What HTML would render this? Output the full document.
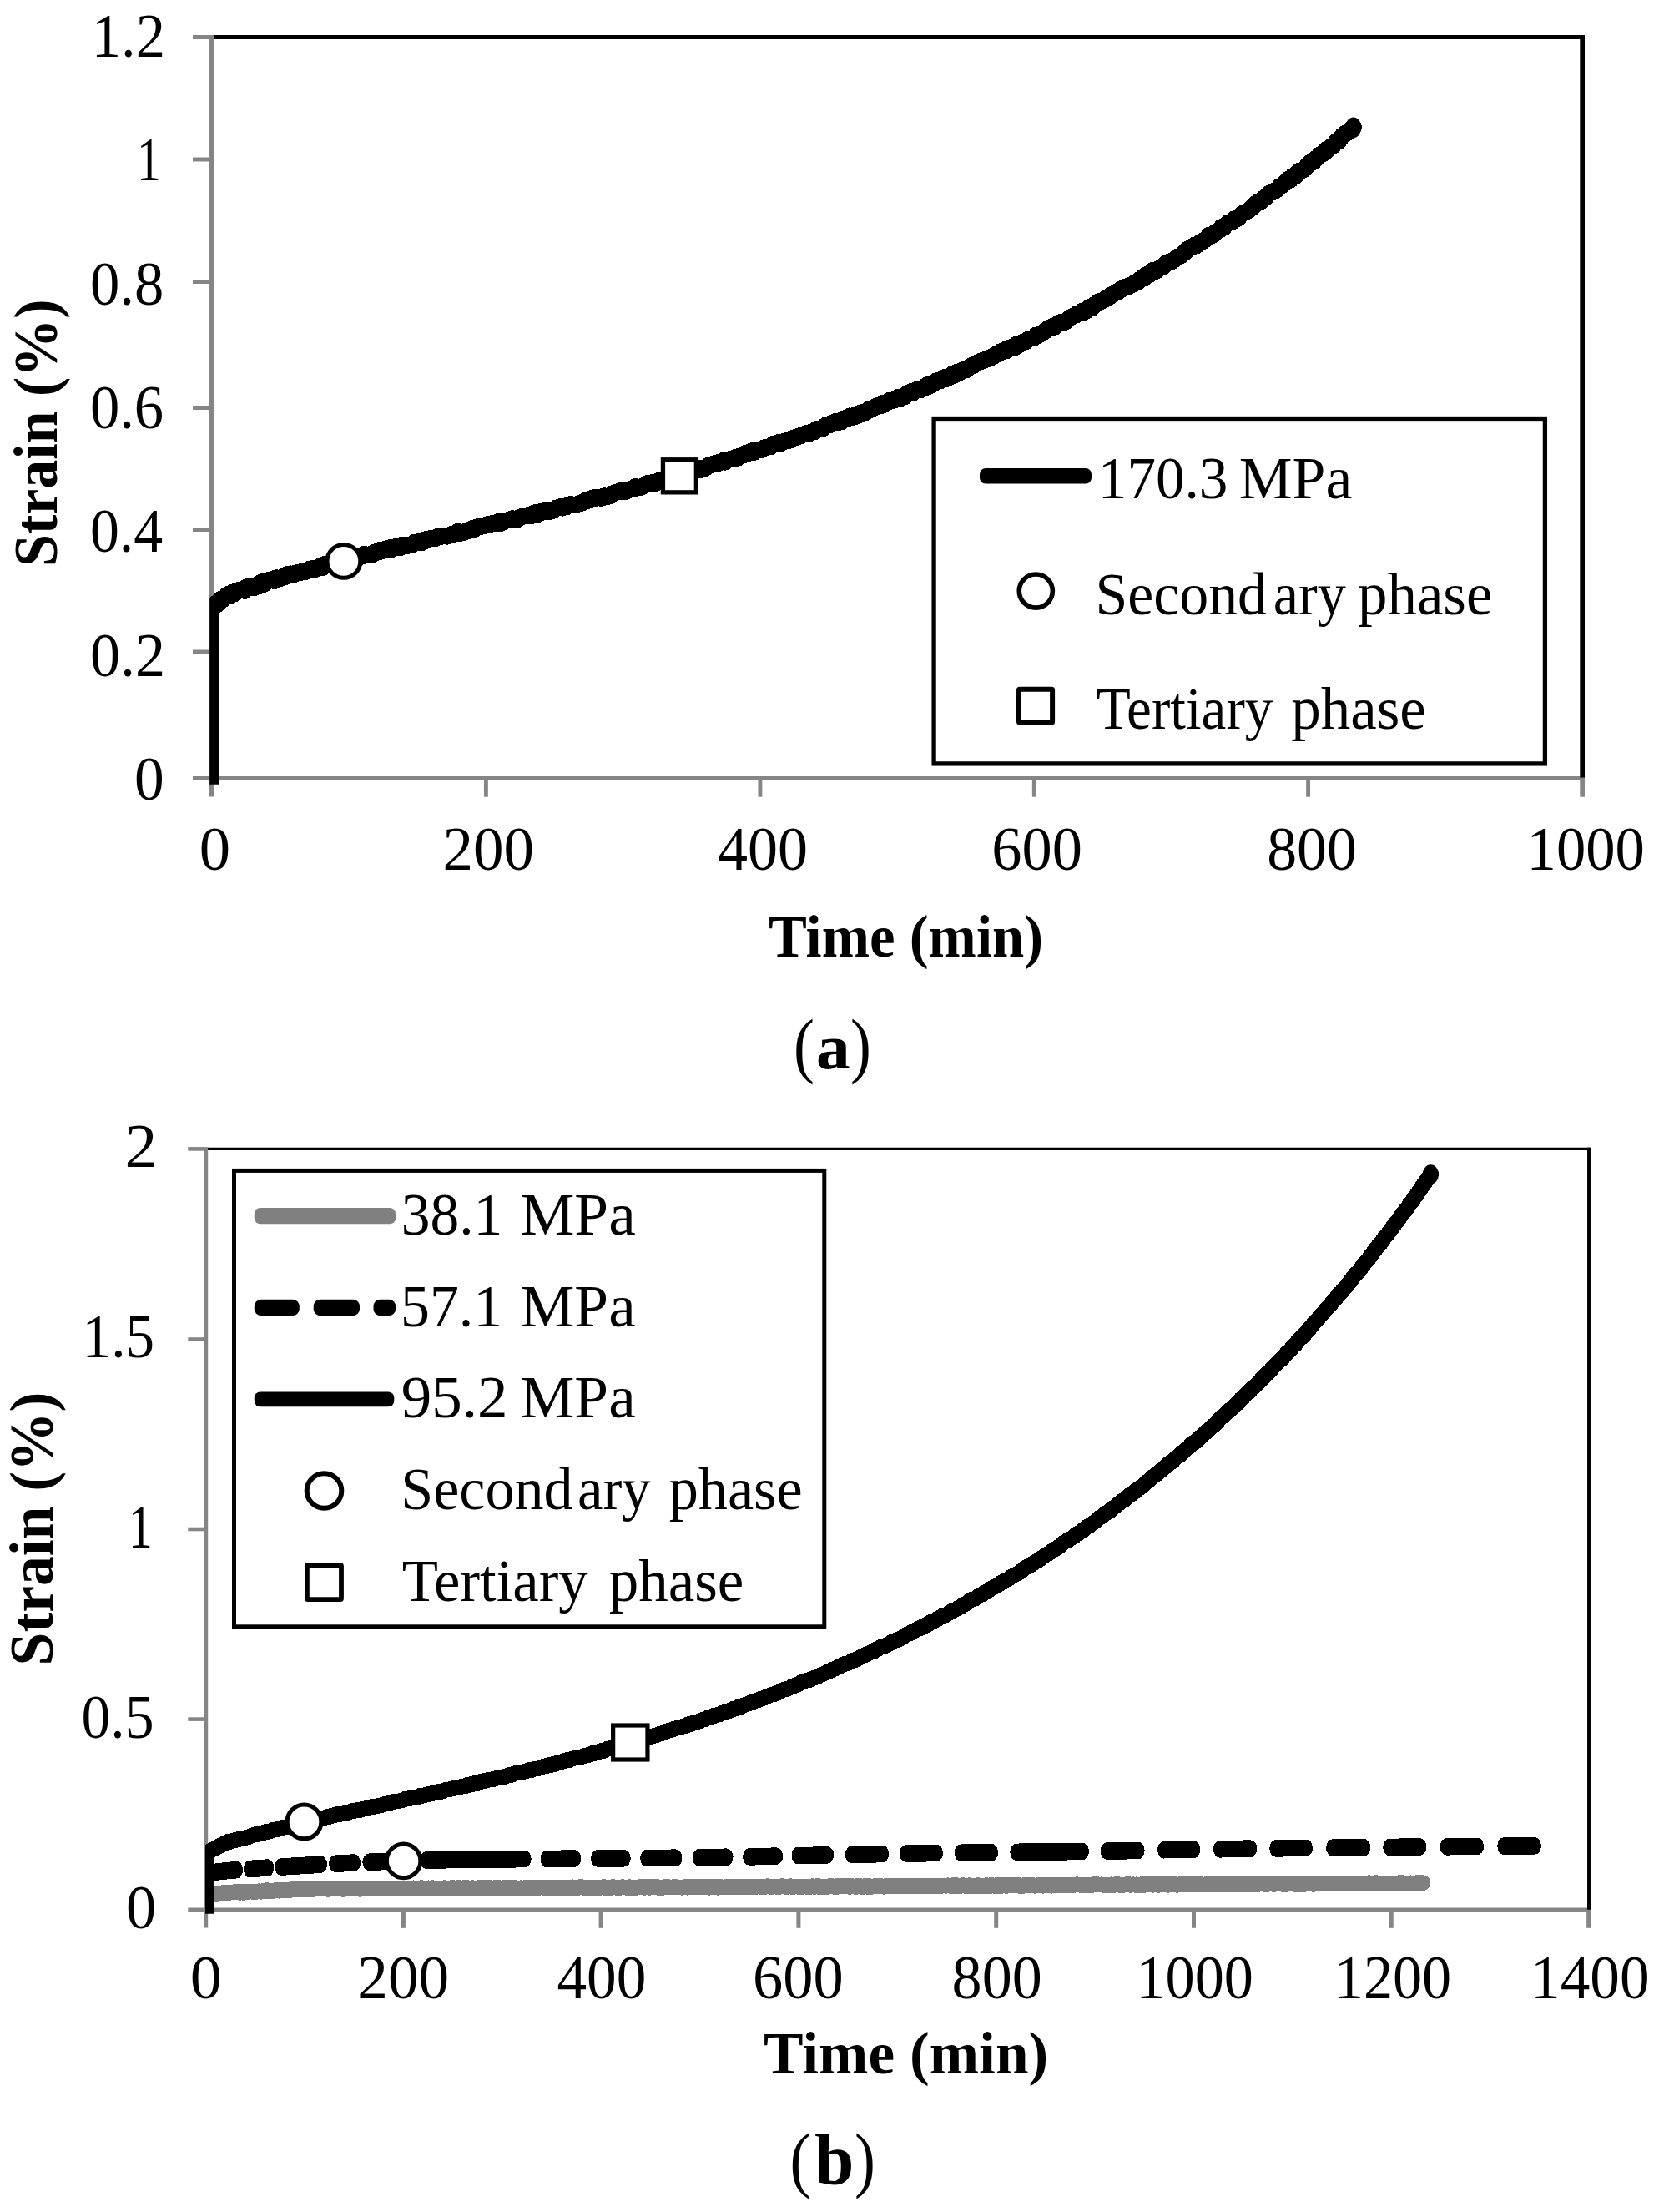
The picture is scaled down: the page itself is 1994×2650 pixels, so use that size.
<!DOCTYPE html>
<html lang="en"><head><meta charset="utf-8"><title>Creep strain versus time</title>
<style>html,body{margin:0;padding:0;background:#fff}svg{display:block}text{font-family:"Liberation Serif",serif;fill:#000;white-space:pre}</style></head><body>
<svg width="1994" height="2650" viewBox="0 0 1994 2650">
<rect width="1994" height="2650" fill="#fff"/>
<defs>
<clipPath id="ca"><rect x="251.2" y="40" width="1650" height="899.8"/></clipPath>
<clipPath id="cb"><rect x="246" y="1370" width="1660" height="922.7"/></clipPath>
</defs>
<g stroke="#858585" stroke-width="5" fill="none">
<line x1="231" y1="932.5" x2="1899.0" y2="932.5" stroke-width="4.8"/>
<line x1="254.0" y1="42" x2="254.0" y2="954.5" stroke-width="6"/>
<line x1="231" y1="781" x2="254.0" y2="781"/>
<line x1="231" y1="634.5" x2="254.0" y2="634.5"/>
<line x1="231" y1="488.5" x2="254.0" y2="488.5"/>
<line x1="231" y1="337.5" x2="254.0" y2="337.5"/>
<line x1="231" y1="191" x2="254.0" y2="191"/>
<line x1="231" y1="44.5" x2="254.0" y2="44.5"/>
<line x1="582.4" y1="932" x2="582.4" y2="954.7" stroke-width="4.9"/>
<line x1="910.9" y1="932" x2="910.9" y2="954.7" stroke-width="4.9"/>
<line x1="1239.3" y1="932" x2="1239.3" y2="954.7" stroke-width="4.9"/>
<line x1="1567.6" y1="932" x2="1567.6" y2="954.7" stroke-width="4.9"/>
<line x1="1896.15" y1="932" x2="1896.15" y2="954.7" stroke-width="5.7"/>
</g>
<line x1="257" y1="44.5" x2="1899.0" y2="44.5" stroke="#000" stroke-width="5"/>
<line x1="1896.15" y1="42" x2="1896.15" y2="931.6" stroke="#000" stroke-width="5.7"/>
<g clip-path="url(#ca)"><g transform="scale(1,1.0)"><path d="M251.9,950.0 L251.9,733.0 L256.0,726.9 L258.5,723.2 L261.0,723.7 L263.8,718.1 L266.5,718.8 L269.8,715.7 L273.0,712.2 L275.7,713.4 L278.3,710.0 L281.0,711.0 L284.0,707.8 L287.0,706.6 L290.0,706.9 L292.9,707.7 L295.7,703.3 L298.5,702.8 L301.4,703.7 L303.9,704.3 L306.4,701.8 L308.9,700.2 L311.4,702.0 L313.9,697.2 L316.4,699.9 L318.9,696.7 L321.4,695.4 L323.9,694.5 L326.4,694.5 L328.9,695.9 L331.4,692.5 L333.9,693.4 L336.4,692.9 L338.9,691.1 L341.4,691.1 L343.9,688.5 L346.4,687.7 L348.9,687.6 L351.4,688.7 L353.9,687.0 L356.4,685.9 L358.9,686.2 L361.4,685.0 L363.9,683.7 L366.4,684.8 L368.9,683.8 L371.4,681.5 L373.9,681.9 L376.4,681.1 L378.9,681.6 L381.4,680.4 L383.9,678.2 L386.4,680.0 L388.9,676.3 L391.4,676.7 L393.9,677.2 L396.4,674.4 L398.9,674.9 L401.4,672.8 L403.9,674.2 L406.4,673.9 L408.9,672.6 L411.4,673.0 L413.9,670.4 L416.4,671.1 L418.9,670.1 L421.4,669.4 L423.9,668.4 L426.4,669.0 L428.9,668.7 L431.4,666.5 L433.9,666.5 L436.4,663.9 L438.9,665.4 L441.4,664.6 L443.9,665.1 L446.4,663.9 L448.9,661.5 L451.4,661.3 L453.9,661.5 L456.4,658.9 L458.9,659.7 L461.4,658.1 L463.9,657.3 L466.4,656.5 L468.9,658.2 L471.4,655.6 L473.9,655.3 L476.4,655.2 L478.9,656.1 L481.4,653.0 L483.9,653.5 L486.4,653.2 L488.9,653.7 L491.4,652.9 L493.9,652.4 L496.4,650.0 L498.9,649.8 L501.4,649.1 L503.9,650.1 L506.4,649.7 L508.9,646.6 L511.4,646.1 L513.9,645.7 L516.4,645.1 L518.9,645.3 L521.4,645.0 L523.9,643.4 L526.4,642.0 L528.9,642.7 L531.4,641.9 L533.9,641.9 L536.4,642.5 L538.9,641.1 L541.4,640.0 L543.9,639.7 L546.4,639.3 L548.9,636.8 L551.4,638.8 L553.9,637.8 L556.4,637.5 L558.9,636.7 L561.4,634.9 L563.9,634.3 L566.4,632.8 L568.9,633.8 L571.4,631.5 L573.9,630.9 L576.4,630.7 L578.9,630.0 L581.4,629.9 L583.9,628.5 L586.4,627.7 L588.9,627.6 L591.4,626.8 L593.9,627.0 L596.4,625.4 L598.9,627.3 L601.4,625.9 L603.9,623.9 L606.4,623.6 L608.9,623.3 L611.4,622.8 L613.9,621.4 L616.4,623.0 L618.9,622.8 L621.4,620.6 L623.9,620.1 L626.4,618.3 L628.9,617.7 L631.4,617.8 L633.9,617.0 L636.4,618.0 L638.9,615.4 L641.4,614.4 L643.9,616.5 L646.4,614.7 L648.9,612.9 L651.4,613.5 L653.9,611.3 L656.4,612.2 L658.9,612.9 L661.4,611.9 L663.9,610.8 L666.4,608.8 L668.9,608.5 L671.4,607.3 L673.9,608.5 L676.4,607.1 L678.9,607.2 L681.4,605.2 L683.9,604.2 L686.4,605.4 L688.9,605.2 L691.4,604.2 L693.9,603.4 L696.4,602.8 L698.9,601.9 L701.4,599.7 L703.9,599.9 L706.4,598.8 L708.9,597.2 L711.4,596.5 L713.9,596.6 L716.4,595.9 L718.9,596.5 L721.4,596.6 L723.9,594.4 L726.4,595.2 L728.9,594.7 L731.4,593.9 L733.9,591.5 L736.4,590.4 L738.9,589.7 L741.4,588.9 L743.9,588.3 L746.4,588.8 L748.9,589.0 L751.4,588.1 L753.9,586.3 L756.4,586.2 L758.9,585.9 L761.4,583.1 L763.9,584.1 L766.4,584.1 L768.9,583.1 L771.4,582.3 L773.9,580.7 L776.4,579.1 L778.9,580.2 L781.4,578.2 L783.9,578.8 L786.4,578.6 L788.9,576.2 L791.4,575.5 L793.9,576.4 L796.4,575.0 L798.9,572.6 L801.4,571.8 L803.9,571.1 L806.4,572.6 L808.9,571.6 L811.4,568.9 L813.9,570.2 L816.4,569.9 L818.9,568.2 L821.4,566.5 L823.9,566.3 L826.4,564.3 L828.9,563.2 L831.4,565.3 L833.9,563.6 L836.4,562.5 L838.9,562.9 L841.4,560.7 L843.9,561.2 L846.4,560.3 L848.9,557.7 L851.4,557.0 L853.9,556.4 L856.4,555.4 L858.9,555.7 L861.4,553.9 L863.9,553.6 L866.4,551.9 L868.9,553.5 L871.4,551.0 L873.9,550.5 L876.4,550.1 L878.9,550.3 L881.4,548.0 L883.9,548.7 L886.4,546.6 L888.9,545.9 L891.4,545.1 L893.9,542.7 L896.4,543.2 L898.9,541.6 L901.4,540.2 L903.9,541.8 L906.4,539.1 L908.9,539.1 L911.4,539.0 L913.9,537.7 L916.4,536.2 L918.9,535.9 L921.4,535.2 L923.9,535.0 L926.4,532.1 L928.9,532.6 L931.4,530.8 L933.9,530.0 L936.4,530.7 L938.9,529.0 L941.4,528.3 L943.9,528.0 L946.4,527.6 L948.9,525.3 L951.4,524.9 L953.9,523.7 L956.4,522.9 L958.9,522.5 L961.4,520.9 L963.9,520.3 L966.4,519.2 L968.9,519.7 L971.4,518.1 L973.9,517.7 L976.4,517.0 L978.9,514.0 L981.4,514.0 L983.9,514.2 L986.4,513.0 L988.9,510.0 L991.4,509.0 L993.9,509.1 L996.4,507.0 L998.9,506.6 L1001.4,505.1 L1003.9,506.0 L1006.4,505.4 L1008.9,504.8 L1011.4,501.6 L1013.9,502.4 L1016.4,501.2 L1018.9,498.7 L1021.4,500.0 L1023.9,499.3 L1026.4,496.1 L1028.9,497.3 L1031.4,494.7 L1033.9,494.0 L1036.4,494.5 L1038.9,493.1 L1041.4,490.1 L1043.9,489.9 L1046.4,489.2 L1048.9,487.6 L1051.4,486.2 L1053.9,485.6 L1056.4,485.8 L1058.9,482.7 L1061.4,483.3 L1063.9,481.9 L1066.4,479.7 L1068.9,479.6 L1071.4,479.4 L1073.9,478.1 L1076.4,475.7 L1078.9,477.5 L1081.4,475.8 L1083.9,475.4 L1086.4,471.7 L1088.9,471.2 L1091.4,469.4 L1093.9,470.6 L1096.4,468.0 L1098.9,466.6 L1101.4,466.4 L1103.9,466.8 L1106.4,465.5 L1108.9,462.7 L1111.4,461.3 L1113.9,462.6 L1116.4,460.4 L1118.9,459.8 L1121.4,456.8 L1123.9,455.7 L1126.4,456.5 L1128.9,454.6 L1131.4,452.4 L1133.9,453.9 L1136.4,451.9 L1138.9,451.3 L1141.4,448.1 L1143.9,449.3 L1146.4,445.8 L1148.9,447.1 L1151.4,444.7 L1153.9,443.3 L1156.4,442.8 L1158.9,442.8 L1161.4,439.7 L1163.9,438.1 L1166.4,438.2 L1168.9,436.2 L1171.4,434.6 L1173.9,433.6 L1176.4,432.2 L1178.9,431.5 L1181.4,430.6 L1183.9,429.4 L1186.4,429.6 L1188.9,427.1 L1191.4,426.5 L1193.9,424.4 L1196.4,423.7 L1198.9,421.5 L1201.4,421.0 L1203.9,419.1 L1206.4,420.1 L1208.9,418.4 L1211.4,416.1 L1213.9,415.7 L1216.4,415.9 L1218.9,412.2 L1221.4,413.1 L1223.9,410.7 L1226.4,409.7 L1228.9,409.5 L1231.4,406.9 L1233.9,406.0 L1236.4,405.3 L1238.9,405.0 L1241.4,401.8 L1243.9,402.0 L1246.4,400.4 L1248.9,398.9 L1251.4,397.0 L1253.9,395.5 L1256.4,393.4 L1258.9,392.3 L1261.4,390.9 L1263.9,391.6 L1266.4,388.9 L1268.9,387.3 L1271.4,385.8 L1273.9,386.8 L1276.4,385.5 L1278.9,383.6 L1281.4,381.2 L1283.9,379.7 L1286.4,378.6 L1288.9,377.7 L1291.4,375.5 L1293.9,375.0 L1296.4,373.2 L1298.9,373.9 L1301.4,372.6 L1303.9,370.0 L1306.4,367.7 L1308.9,368.5 L1311.4,365.2 L1313.9,364.0 L1316.4,361.5 L1318.9,361.3 L1321.4,360.2 L1323.9,358.9 L1326.4,356.6 L1328.9,356.1 L1331.4,353.2 L1333.9,352.6 L1336.4,350.7 L1338.9,350.2 L1341.4,347.7 L1343.9,346.2 L1346.4,345.7 L1348.9,344.0 L1351.4,343.7 L1353.9,342.0 L1356.4,341.3 L1358.9,339.5 L1361.4,338.3 L1363.9,337.3 L1366.4,334.4 L1368.9,332.7 L1371.4,333.2 L1373.9,329.2 L1376.4,329.5 L1378.9,327.7 L1381.4,324.4 L1383.9,325.3 L1386.4,324.0 L1388.9,321.7 L1391.4,320.5 L1393.9,319.2 L1396.4,315.7 L1398.9,315.3 L1401.4,313.7 L1403.9,313.2 L1406.4,311.5 L1408.9,310.0 L1411.4,307.7 L1413.9,307.1 L1416.4,304.9 L1418.9,303.4 L1421.4,300.4 L1423.9,298.2 L1426.4,296.9 L1428.9,296.0 L1431.4,293.7 L1433.9,294.2 L1436.4,291.8 L1438.9,290.4 L1441.4,288.8 L1443.9,287.3 L1446.4,285.1 L1448.9,282.0 L1451.4,282.7 L1453.9,280.9 L1456.4,278.5 L1458.9,276.9 L1461.4,275.6 L1463.9,272.2 L1466.4,272.5 L1468.9,269.4 L1471.4,267.1 L1473.9,266.0 L1476.4,265.7 L1478.9,262.4 L1481.4,262.3 L1483.9,261.2 L1486.4,258.1 L1488.9,256.0 L1491.4,254.5 L1493.9,253.4 L1496.4,251.9 L1498.9,249.6 L1501.4,247.9 L1503.9,244.5 L1506.4,242.9 L1508.9,241.4 L1511.4,241.1 L1513.9,237.9 L1516.4,236.9 L1518.9,233.4 L1521.4,231.7 L1523.9,230.5 L1526.4,229.9 L1528.9,228.1 L1531.4,226.1 L1533.9,223.1 L1536.4,221.9 L1538.9,219.9 L1541.4,218.0 L1543.9,215.0 L1546.4,215.4 L1548.9,211.4 L1551.4,211.8 L1553.9,209.8 L1556.4,205.1 L1558.9,204.5 L1561.4,203.6 L1563.9,202.1 L1566.4,198.5 L1568.9,196.0 L1571.4,193.8 L1573.9,194.0 L1576.4,189.8 L1578.9,188.9 L1581.4,185.6 L1583.9,184.7 L1586.4,183.9 L1588.9,179.4 L1591.4,179.4 L1593.9,176.4 L1596.4,175.5 L1598.9,172.8 L1601.4,169.3 L1603.9,169.2 L1606.4,165.8 L1608.9,162.3 L1611.4,160.1 L1613.9,159.4 L1616.4,157.2 L1618.9,154.6 L1621.4,151.9 L1621.8,152.2" fill="none" stroke="#000" stroke-width="20.2" stroke-linejoin="round" stroke-linecap="round" shape-rendering="crispEdges"/></g></g>
<ellipse cx="1621.8" cy="152.7" rx="9.6" ry="12.3" fill="#000"/>
<circle cx="411.9" cy="672.4" r="19.9" fill="#fff" stroke="#000" stroke-width="5"/>
<rect x="794.45" y="550.75" width="39.9" height="39.1" fill="#fff" stroke="#000" stroke-width="5.3"/>
<text transform="translate(109.8,67.8) scale(0.9533924168070508,1)" text-anchor="start" font-size="74" font-weight="normal" >1.2</text>
<text transform="translate(164.0,216.2) scale(0.7754914004914,1)" text-anchor="start" font-size="74" font-weight="normal" >1</text>
<text transform="translate(107.9,364.5) scale(0.9553846862194392,1)" text-anchor="start" font-size="74" font-weight="normal" >0.8</text>
<text transform="translate(107.9,512.9) scale(0.9546348378835688,1)" text-anchor="start" font-size="74" font-weight="normal" >0.6</text>
<text transform="translate(107.9,661.3) scale(0.9434601825906174,1)" text-anchor="start" font-size="74" font-weight="normal" >0.4</text>
<text transform="translate(107.9,809.6) scale(0.9752622112172673,1)" text-anchor="start" font-size="74" font-weight="normal" >0.2</text>
<text transform="translate(161.1,958.0) scale(0.9657062723100454,1)" text-anchor="start" font-size="74" font-weight="normal" >0</text>
<text transform="translate(238.7,1041.6) scale(1.0103263640999487,1)" text-anchor="start" font-size="74" font-weight="normal" >0</text>
<text transform="translate(530.4,1041.6) scale(0.9863530667479892,1)" text-anchor="start" font-size="74" font-weight="normal" >200</text>
<text transform="translate(859.9,1041.6) scale(0.9736851969861687,1)" text-anchor="start" font-size="74" font-weight="normal" >400</text>
<text transform="translate(1188.2,1041.6) scale(0.9789916766660949,1)" text-anchor="start" font-size="74" font-weight="normal" >600</text>
<text transform="translate(1518.2,1041.6) scale(0.9689113270573936,1)" text-anchor="start" font-size="74" font-weight="normal" >800</text>
<text transform="translate(1829.6,1041.6) scale(0.9540223254204041,1)" text-anchor="start" font-size="74" font-weight="normal" >1000</text>
<text transform="translate(920.9,1146.0) scale(0.9555038431704393,1)" text-anchor="start" font-size="72" font-weight="bold" >Time (min)</text>
<text transform="translate(68.0,678.9) rotate(-90) scale(0.944981985998482,1)" text-anchor="start" font-size="74" font-weight="bold" >Strain (%)</text>
<text><tspan x="951" y="1280.5" font-size="86" font-weight="normal" textLength="24.9" lengthAdjust="spacingAndGlyphs">(</tspan><tspan x="978" y="1280" font-size="76" font-weight="bold" textLength="40.7" lengthAdjust="spacingAndGlyphs">a</tspan><tspan x="1019" y="1280.5" font-size="86" font-weight="normal" textLength="24.9" lengthAdjust="spacingAndGlyphs">)</tspan></text>
<rect x="1119.1" y="501.5" width="732.3" height="413.4" fill="#fff" stroke="#000" stroke-width="5.3"/>
<rect x="1174" y="561" width="134" height="18.6" rx="7" fill="#000"/>
<text y="596.8" font-size="72" font-weight="normal" xml:space="preserve"><tspan x="1315.8" textLength="172.9" lengthAdjust="spacingAndGlyphs">170.3 </tspan><tspan x="1484.8" textLength="135.6" lengthAdjust="spacingAndGlyphs">MPa</tspan></text>
<circle cx="1241.3" cy="708.1" r="20.05" fill="#fff" stroke="#000" stroke-width="5.6"/>
<text y="735.8" font-size="72" font-weight="normal" xml:space="preserve"><tspan x="1312.5" textLength="205.5" lengthAdjust="spacingAndGlyphs">Second</tspan><tspan x="1525.7" textLength="104.1" lengthAdjust="spacingAndGlyphs">ary </tspan><tspan x="1627.0" textLength="161.4" lengthAdjust="spacingAndGlyphs">phase</tspan></text>
<rect x="1221" y="825.7" width="40.1" height="39.8" rx="1" fill="#fff" stroke="#000" stroke-width="6"/>
<text y="873.0" font-size="72" font-weight="normal" xml:space="preserve"><tspan x="1313.8" textLength="228.3" lengthAdjust="spacingAndGlyphs">Tertiary </tspan><tspan x="1547.3" textLength="161.5" lengthAdjust="spacingAndGlyphs">phase</tspan></text>
<g stroke="#858585" stroke-width="5" fill="none">
<line x1="225.3" y1="2288.2" x2="1906.85" y2="2288.2" stroke-width="5.6"/>
<line x1="246.6" y1="1374.2" x2="246.6" y2="2309.5" stroke-width="5.2"/>
<line x1="225.3" y1="2059.6" x2="246.6" y2="2059.6" stroke-width="4.6"/>
<line x1="225.3" y1="1832" x2="246.6" y2="1832" stroke-width="4.6"/>
<line x1="225.3" y1="1604.5" x2="246.6" y2="1604.5" stroke-width="4.6"/>
<line x1="225.3" y1="1376.4" x2="246.6" y2="1376.4" stroke-width="4.6"/>
<line x1="483.4" y1="2288.2" x2="483.4" y2="2309.8" stroke-width="5"/>
<line x1="720.1" y1="2288.2" x2="720.1" y2="2309.8" stroke-width="5"/>
<line x1="956.9" y1="2288.2" x2="956.9" y2="2309.8" stroke-width="5"/>
<line x1="1193.7" y1="2288.2" x2="1193.7" y2="2309.8" stroke-width="5"/>
<line x1="1430.5" y1="2288.2" x2="1430.5" y2="2309.8" stroke-width="5"/>
<line x1="1667.2" y1="2288.2" x2="1667.2" y2="2309.8" stroke-width="5"/>
<line x1="1904.0" y1="2288.2" x2="1904.0" y2="2309.8" stroke-width="5.7"/>
</g>
<line x1="249" y1="1376.4" x2="1905.95" y2="1376.4" stroke="#000" stroke-width="3.2"/>
<line x1="1904.0" y1="1374.8" x2="1904.0" y2="2287.8" stroke="#000" stroke-width="3.9"/>
<g clip-path="url(#cb)"><g transform="scale(1,1.0)"><path d="M247.0,2271.8 L249.3,2271.8 L251.5,2270.1 L253.8,2270.3 L256.0,2269.9 L258.3,2268.5 L260.4,2269.2 L262.5,2268.6 L264.6,2268.6 L266.6,2267.7 L268.7,2267.6 L270.8,2267.4 L272.9,2268.0 L275.0,2267.4 L277.1,2267.0 L279.1,2267.0 L281.2,2266.7 L283.3,2266.4 L285.4,2266.4 L287.5,2267.2 L289.6,2266.5 L291.7,2267.2 L293.7,2266.3 L295.8,2266.2 L297.9,2266.4 L300.0,2265.9 L302.0,2266.0 L304.0,2266.6 L306.1,2266.4 L308.1,2266.2 L310.1,2265.9 L312.1,2266.2 L314.2,2266.1 L316.2,2265.5 L318.2,2265.6 L320.2,2264.7 L322.3,2265.4 L324.3,2265.0 L326.3,2265.3 L328.3,2265.1 L330.4,2264.5 L332.4,2264.2 L334.4,2265.1 L336.4,2264.1 L338.4,2264.4 L340.5,2264.2 L342.5,2264.0 L344.5,2264.5 L346.5,2264.7 L348.6,2263.7 L350.6,2264.1 L352.6,2263.7 L354.6,2263.9 L356.7,2263.6 L358.7,2263.3 L360.7,2263.2 L362.7,2263.2 L364.8,2264.0 L366.8,2263.4 L368.8,2263.1 L370.8,2263.8 L372.8,2263.9 L374.9,2263.2 L376.9,2262.8 L378.9,2262.8 L380.9,2262.6 L382.9,2262.9 L385.0,2262.6 L387.0,2262.7 L389.0,2262.7 L391.0,2263.0 L393.0,2263.4 L395.1,2263.2 L397.1,2262.8 L399.1,2262.7 L401.1,2262.9 L403.1,2262.7 L405.2,2262.6 L407.2,2262.2 L409.2,2262.5 L411.2,2263.3 L413.2,2262.3 L415.3,2262.7 L417.3,2262.8 L419.3,2263.1 L421.3,2262.3 L423.3,2262.4 L425.4,2262.3 L427.4,2262.5 L429.4,2262.6 L431.4,2263.2 L433.5,2263.0 L435.5,2263.0 L437.5,2262.0 L439.5,2262.0 L441.5,2262.8 L443.6,2263.0 L445.6,2262.5 L447.6,2262.7 L449.6,2262.0 L451.6,2262.4 L453.7,2263.1 L455.7,2262.9 L457.7,2263.0 L459.7,2263.1 L461.7,2262.2 L463.8,2262.0 L465.8,2262.1 L467.8,2262.5 L469.8,2262.7 L471.8,2263.0 L473.9,2262.7 L475.9,2262.6 L477.9,2262.8 L479.9,2262.4 L481.9,2262.5 L484.0,2261.9 L486.0,2262.8 L488.0,2262.1 L490.0,2262.9 L492.0,2262.5 L494.0,2262.1 L496.0,2261.9 L498.0,2262.0 L500.0,2262.5 L502.0,2262.5 L504.0,2261.8 L506.0,2261.8 L508.0,2262.3 L510.0,2262.4 L512.0,2262.1 L514.0,2261.9 L516.0,2262.3 L518.0,2261.6 L520.0,2262.0 L522.0,2262.1 L524.0,2262.7 L526.0,2262.3 L528.0,2262.6 L530.0,2262.1 L532.0,2261.8 L534.0,2261.8 L536.0,2262.7 L538.0,2262.3 L540.0,2261.8 L542.0,2261.5 L544.0,2262.1 L546.0,2262.3 L548.0,2261.9 L550.0,2261.7 L552.0,2262.2 L554.0,2262.5 L556.0,2261.7 L558.0,2261.4 L560.0,2261.8 L562.0,2261.9 L564.0,2262.2 L566.0,2261.6 L568.0,2262.3 L570.0,2262.2 L572.0,2261.9 L574.0,2261.5 L576.0,2262.4 L578.0,2261.6 L580.0,2262.2 L582.0,2261.5 L584.0,2261.5 L586.0,2262.1 L588.0,2261.6 L590.0,2262.4 L592.0,2261.8 L594.0,2261.4 L596.0,2261.5 L598.0,2261.7 L600.0,2262.0 L602.0,2262.3 L604.0,2261.3 L606.0,2261.6 L608.0,2261.4 L610.0,2262.3 L612.0,2261.3 L614.0,2261.2 L616.0,2261.2 L618.0,2261.6 L620.0,2262.1 L622.0,2262.1 L624.0,2261.9 L626.0,2262.2 L628.0,2262.2 L630.0,2261.4 L632.0,2261.2 L634.0,2262.1 L636.0,2261.9 L638.0,2261.0 L640.0,2261.8 L642.0,2261.4 L644.0,2261.4 L646.0,2261.3 L648.0,2261.1 L650.0,2260.9 L652.0,2261.3 L654.0,2261.3 L656.0,2262.1 L658.0,2261.0 L660.0,2262.0 L662.0,2261.1 L664.0,2261.3 L666.0,2261.8 L668.0,2261.8 L670.0,2261.4 L672.0,2260.9 L674.0,2261.4 L676.0,2261.3 L678.0,2261.9 L680.0,2261.0 L682.0,2261.2 L684.0,2261.9 L686.0,2260.8 L688.0,2261.2 L690.0,2261.7 L692.0,2261.7 L694.0,2260.8 L696.0,2260.8 L698.0,2260.8 L700.0,2261.8 L702.0,2261.0 L704.0,2261.6 L706.0,2261.7 L708.0,2261.1 L710.0,2261.0 L712.0,2261.8 L714.0,2261.4 L716.0,2260.9 L718.0,2261.5 L720.0,2261.0 L722.0,2260.9 L724.0,2260.6 L726.0,2261.5 L728.0,2261.7 L730.0,2261.3 L732.0,2261.7 L734.0,2260.6 L736.0,2260.8 L738.0,2261.1 L740.0,2261.7 L742.0,2261.7 L744.0,2261.0 L746.0,2260.8 L748.0,2261.0 L750.0,2261.1 L752.0,2261.6 L754.0,2260.7 L756.0,2261.4 L758.0,2261.3 L760.0,2261.4 L762.0,2261.3 L764.0,2261.1 L766.0,2260.8 L768.0,2260.8 L770.0,2260.8 L772.0,2261.3 L774.0,2260.5 L776.0,2260.6 L778.0,2261.3 L780.0,2260.6 L782.0,2260.4 L784.0,2260.4 L786.0,2261.0 L788.0,2260.7 L790.0,2261.5 L792.0,2261.4 L794.0,2261.5 L796.0,2260.6 L798.0,2260.4 L800.0,2260.4 L802.0,2260.9 L804.0,2261.1 L806.0,2260.8 L808.0,2260.5 L810.0,2260.7 L812.0,2261.0 L814.0,2261.0 L816.0,2261.1 L818.0,2261.2 L820.0,2261.0 L822.0,2260.3 L824.0,2261.2 L826.0,2260.5 L828.0,2260.8 L830.0,2260.6 L832.0,2261.0 L834.0,2260.4 L836.0,2260.4 L838.0,2260.4 L840.0,2260.3 L842.0,2261.1 L844.0,2260.8 L846.0,2260.5 L848.0,2260.5 L850.0,2261.2 L852.0,2260.7 L854.0,2260.3 L856.0,2261.0 L858.0,2260.8 L860.0,2261.2 L862.0,2260.1 L864.0,2260.6 L866.0,2261.0 L868.0,2261.0 L870.0,2261.1 L872.0,2260.0 L874.0,2260.3 L876.0,2260.1 L878.0,2260.2 L880.0,2261.1 L882.0,2260.6 L884.0,2261.0 L886.0,2260.4 L888.0,2260.9 L890.0,2260.4 L892.0,2260.2 L894.0,2260.8 L896.0,2261.0 L898.0,2260.0 L900.0,2260.6 L902.0,2260.6 L904.0,2260.1 L906.0,2260.3 L908.0,2260.0 L910.0,2260.1 L912.0,2260.1 L914.0,2260.5 L916.0,2260.6 L918.0,2260.0 L920.0,2259.8 L922.0,2260.1 L924.0,2260.6 L926.0,2260.0 L928.0,2260.1 L930.0,2260.0 L932.0,2260.7 L934.0,2260.4 L936.0,2259.8 L938.0,2259.8 L940.0,2260.2 L942.0,2260.3 L944.0,2260.4 L946.0,2259.8 L948.0,2259.8 L950.0,2260.5 L952.0,2260.1 L954.0,2260.0 L956.0,2260.0 L958.0,2260.7 L960.0,2260.0 L962.0,2260.3 L964.0,2260.0 L966.0,2260.1 L968.0,2260.6 L970.0,2260.7 L972.0,2260.0 L974.0,2259.8 L976.0,2260.4 L978.0,2259.8 L980.0,2259.5 L982.0,2260.6 L984.0,2260.0 L986.0,2260.5 L988.0,2259.9 L990.0,2260.5 L992.0,2260.0 L994.0,2259.6 L996.0,2259.4 L998.0,2260.1 L1000.0,2260.2 L1002.0,2260.5 L1004.0,2259.5 L1006.0,2260.1 L1008.0,2259.8 L1010.0,2260.0 L1012.0,2259.5 L1014.0,2259.7 L1016.0,2259.9 L1018.0,2260.4 L1020.0,2259.4 L1022.0,2259.9 L1024.0,2260.2 L1026.0,2260.4 L1028.0,2259.5 L1030.0,2259.4 L1032.0,2260.4 L1034.0,2260.4 L1036.0,2259.8 L1038.0,2259.3 L1040.0,2260.3 L1042.0,2259.7 L1044.0,2260.3 L1046.0,2259.9 L1048.0,2260.1 L1050.0,2259.3 L1052.0,2260.1 L1054.0,2259.4 L1056.0,2259.6 L1058.0,2260.1 L1060.0,2260.1 L1062.0,2259.3 L1064.0,2259.3 L1066.0,2259.5 L1068.0,2259.7 L1070.0,2259.5 L1072.0,2259.2 L1074.0,2259.3 L1076.0,2259.9 L1078.0,2260.1 L1080.0,2259.0 L1082.0,2259.7 L1084.0,2259.9 L1086.0,2259.0 L1088.0,2260.0 L1090.0,2259.1 L1092.0,2259.6 L1094.0,2259.6 L1096.0,2259.7 L1098.0,2259.3 L1100.0,2259.4 L1102.0,2259.6 L1104.0,2259.4 L1106.0,2259.6 L1108.0,2259.4 L1110.0,2259.4 L1112.0,2258.9 L1114.0,2259.6 L1116.0,2259.4 L1118.0,2259.1 L1120.0,2259.7 L1122.0,2259.7 L1124.0,2259.3 L1126.0,2259.0 L1128.0,2259.3 L1130.0,2258.9 L1132.0,2258.9 L1134.0,2259.2 L1136.0,2258.8 L1138.0,2259.2 L1140.0,2259.3 L1142.0,2258.7 L1144.0,2259.4 L1146.0,2258.7 L1148.0,2259.5 L1150.0,2259.5 L1152.0,2259.2 L1154.0,2258.7 L1156.0,2259.2 L1158.0,2259.0 L1160.0,2259.7 L1162.0,2258.7 L1164.0,2259.6 L1166.0,2259.7 L1168.0,2259.4 L1170.0,2259.5 L1172.0,2258.7 L1174.0,2259.7 L1176.0,2259.1 L1178.0,2259.6 L1180.0,2259.5 L1182.0,2258.6 L1184.0,2259.4 L1186.0,2259.5 L1188.0,2258.5 L1190.0,2258.8 L1192.0,2259.3 L1194.0,2258.6 L1196.0,2259.4 L1198.0,2258.7 L1200.0,2259.3 L1202.0,2258.5 L1204.0,2258.9 L1206.0,2259.4 L1208.0,2258.5 L1210.0,2258.6 L1212.0,2258.9 L1214.0,2258.6 L1216.0,2258.3 L1218.0,2258.5 L1220.0,2258.4 L1222.0,2259.3 L1224.0,2259.0 L1226.0,2259.3 L1228.0,2258.4 L1230.0,2259.1 L1232.0,2258.3 L1234.0,2258.8 L1236.0,2258.9 L1238.0,2258.6 L1240.0,2259.2 L1242.0,2258.8 L1244.0,2258.8 L1246.0,2259.1 L1248.0,2258.2 L1250.0,2259.2 L1252.0,2258.8 L1254.0,2258.5 L1256.0,2259.0 L1258.0,2258.3 L1260.0,2259.2 L1262.0,2258.7 L1264.0,2258.4 L1266.0,2258.9 L1268.0,2258.5 L1270.0,2258.2 L1272.0,2258.8 L1274.0,2258.0 L1276.0,2258.9 L1278.0,2258.2 L1280.0,2258.7 L1282.0,2259.1 L1284.0,2258.6 L1286.0,2258.6 L1288.0,2258.2 L1290.0,2257.8 L1292.0,2257.9 L1294.0,2258.0 L1296.0,2258.5 L1298.0,2258.3 L1300.0,2258.4 L1302.0,2258.8 L1304.0,2257.9 L1306.0,2258.0 L1308.0,2258.5 L1310.0,2257.7 L1312.0,2257.7 L1314.0,2258.1 L1316.0,2257.8 L1318.0,2258.1 L1320.0,2257.9 L1322.0,2258.3 L1324.0,2258.3 L1326.0,2257.9 L1328.0,2258.4 L1330.0,2258.2 L1332.0,2257.8 L1334.0,2258.7 L1336.0,2257.9 L1338.0,2257.7 L1340.0,2257.7 L1342.0,2258.3 L1344.0,2258.6 L1346.0,2258.4 L1348.0,2258.0 L1350.0,2257.8 L1352.0,2257.5 L1354.0,2258.2 L1356.0,2258.1 L1358.0,2257.9 L1360.0,2258.2 L1362.0,2257.9 L1364.0,2258.5 L1366.0,2258.3 L1368.0,2257.7 L1370.0,2258.5 L1372.0,2257.4 L1374.0,2258.0 L1376.0,2257.8 L1378.0,2257.6 L1380.0,2257.4 L1382.0,2258.2 L1384.0,2257.3 L1386.0,2257.9 L1388.0,2258.4 L1390.0,2257.4 L1392.0,2257.5 L1394.0,2258.0 L1396.0,2257.8 L1398.0,2258.0 L1400.0,2258.2 L1402.0,2257.4 L1404.0,2257.5 L1406.0,2257.5 L1408.0,2257.2 L1410.0,2258.2 L1412.0,2258.1 L1414.0,2258.0 L1416.1,2257.1 L1418.1,2258.1 L1420.1,2258.0 L1422.1,2257.6 L1424.1,2258.0 L1426.1,2257.6 L1428.1,2257.3 L1430.1,2257.2 L1432.1,2257.3 L1434.1,2257.1 L1436.1,2257.4 L1438.1,2257.9 L1440.1,2257.8 L1442.1,2258.0 L1444.1,2257.8 L1446.2,2257.3 L1448.2,2257.6 L1450.2,2257.4 L1452.2,2257.8 L1454.2,2257.5 L1456.2,2257.2 L1458.2,2257.6 L1460.2,2258.0 L1462.2,2257.1 L1464.2,2257.9 L1466.2,2256.8 L1468.2,2257.1 L1470.2,2257.1 L1472.2,2257.7 L1474.2,2257.9 L1476.2,2257.7 L1478.3,2257.1 L1480.3,2257.8 L1482.3,2257.1 L1484.3,2257.0 L1486.3,2257.8 L1488.3,2257.4 L1490.3,2257.5 L1492.3,2257.5 L1494.3,2257.8 L1496.3,2257.2 L1498.3,2257.6 L1500.3,2257.5 L1502.3,2257.6 L1504.3,2257.1 L1506.3,2257.5 L1508.4,2257.3 L1510.4,2256.9 L1512.4,2256.8 L1514.4,2257.3 L1516.4,2256.6 L1518.4,2257.6 L1520.4,2256.7 L1522.4,2256.5 L1524.4,2256.6 L1526.4,2257.6 L1528.4,2256.9 L1530.4,2256.6 L1532.4,2256.5 L1534.4,2256.5 L1536.4,2257.2 L1538.5,2257.2 L1540.5,2257.2 L1542.5,2257.3 L1544.5,2256.4 L1546.5,2257.1 L1548.5,2256.8 L1550.5,2257.3 L1552.5,2257.3 L1554.5,2257.4 L1556.5,2256.4 L1558.5,2257.3 L1560.5,2257.4 L1562.5,2257.4 L1564.5,2256.4 L1566.5,2256.5 L1568.6,2256.3 L1570.6,2256.2 L1572.6,2257.2 L1574.6,2257.2 L1576.6,2256.9 L1578.6,2257.1 L1580.6,2256.9 L1582.6,2256.5 L1584.6,2256.2 L1586.6,2256.2 L1588.6,2257.0 L1590.6,2256.3 L1592.6,2256.5 L1594.6,2256.6 L1596.6,2256.1 L1598.7,2256.3 L1600.7,2256.4 L1602.7,2256.9 L1604.7,2256.4 L1606.7,2256.4 L1608.7,2257.1 L1610.7,2256.6 L1612.7,2257.0 L1614.7,2256.7 L1616.7,2256.0 L1618.7,2256.4 L1620.7,2256.4 L1622.7,2256.8 L1624.7,2256.3 L1626.7,2256.7 L1628.8,2256.5 L1630.8,2256.1 L1632.8,2256.9 L1634.8,2255.9 L1636.8,2256.8 L1638.8,2256.0 L1640.8,2255.8 L1642.8,2256.0 L1644.8,2256.7 L1646.8,2256.9 L1648.8,2255.7 L1650.8,2256.3 L1652.8,2256.3 L1654.8,2256.7 L1656.8,2255.9 L1658.8,2256.3 L1660.9,2256.1 L1662.9,2256.6 L1664.9,2256.0 L1666.9,2256.8 L1668.9,2256.0 L1670.9,2255.9 L1672.9,2256.4 L1674.9,2256.2 L1676.9,2255.7 L1678.9,2256.3 L1680.9,2255.6 L1682.9,2256.5 L1684.9,2256.4 L1686.9,2256.5 L1688.9,2256.2 L1691.0,2255.9 L1693.0,2256.0 L1695.0,2255.9 L1697.0,2256.5 L1699.0,2255.5 L1701.0,2256.5 L1703.0,2255.4 L1705.0,2255.6" fill="none" stroke="#808080" stroke-width="18.8" stroke-linejoin="round" stroke-linecap="round" shape-rendering="crispEdges"/></g></g>
<g clip-path="url(#cb)"><g transform="scale(1,1.3733)"><path d="M258.5,1633.1 L271.0,1632.0 L283.5,1631.2 M299.4,1630.4 L321.0,1629.3 M336.7,1628.6 L352.6,1627.9 L368.6,1627.2 L384.5,1626.5 M401.5,1625.8 L424.6,1625.0 M441.9,1624.4 L462.5,1623.8 M510.5,1622.8 L523.7,1622.6 L536.9,1622.5 L550.1,1622.3 L563.3,1622.2 L576.4,1622.1 L589.6,1622.0 L602.8,1621.9 L616.0,1621.8 L629.2,1621.7 M655.0,1621.6 L671.9,1621.5 L688.7,1621.3 M715.5,1621.2 L731.9,1621.1 L748.2,1621.1 M774.7,1621.0 L792.4,1620.9 L810.0,1620.7 M837.3,1620.4 L854.2,1620.3 L871.1,1620.0 M897.7,1619.7 L914.2,1619.5 L930.6,1619.2 M956.1,1618.8 L973.9,1618.6 L991.6,1618.3 M1020.3,1617.9 L1032.7,1617.7 L1045.2,1617.5 L1057.6,1617.3 M1085.2,1617.0 L1097.6,1616.8 L1110.1,1616.7 L1122.5,1616.5 M1151.2,1616.3 L1163.6,1616.2 L1176.1,1616.1 L1188.5,1616.0 M1217.9,1615.7 L1231.2,1615.6 L1244.4,1615.5 L1257.7,1615.4 L1270.9,1615.3 L1284.2,1615.2 L1297.4,1615.1 M1326.1,1614.8 L1338.8,1614.6 L1351.4,1614.5 L1364.1,1614.3 M1394.6,1613.8 L1406.7,1613.6 L1418.8,1613.5 L1430.9,1613.4 M1461.4,1613.1 L1473.8,1612.9 L1486.3,1612.8 L1498.7,1612.7 M1528.8,1612.4 L1541.0,1612.3 L1553.2,1612.2 L1565.4,1612.1 M1596.6,1611.9 L1609.3,1611.8 L1621.9,1611.7 L1634.6,1611.6 M1664.7,1611.4 L1677.1,1611.3 L1689.6,1611.2 L1702.0,1611.1 M1733.3,1610.9 L1745.7,1610.8 L1758.1,1610.8 L1770.5,1610.7 M1801.8,1610.4 L1814.3,1610.4 L1826.9,1610.3 L1839.4,1610.2" fill="none" stroke="#000" stroke-width="15.0" stroke-linejoin="round" stroke-linecap="round" shape-rendering="crispEdges"/></g></g>
<g clip-path="url(#cb)"><g transform="scale(1,1.0)"><path d="M246.8,2310.0 L246.8,2220.0 L272.7,2206.5 L275.9,2206.6 L279.1,2205.2 L282.3,2204.3 L284.8,2204.3 L287.3,2202.7 L289.8,2202.4 L292.3,2201.8 L294.8,2201.4 L297.3,2200.8 L299.8,2199.9 L302.3,2198.8 L304.8,2198.2 L307.3,2197.3 L309.8,2197.6 L312.3,2196.7 L314.8,2196.1 L317.3,2194.7 L319.8,2194.4 L322.3,2194.2 L324.8,2193.3 L327.3,2192.1 L329.8,2191.9 L332.3,2191.9 L334.8,2190.3 L337.3,2189.7 L339.8,2189.2 L342.3,2189.1 L344.8,2188.7 L347.3,2187.1 L349.8,2186.5 L352.3,2186.0 L354.8,2185.5 L357.3,2185.2 L359.8,2184.1 L362.3,2183.7 L364.8,2182.9 L367.3,2183.4 L369.8,2182.5 L372.3,2181.0 L374.8,2181.6 L377.3,2179.8 L379.8,2179.6 L382.3,2179.9 L384.8,2179.0 L387.3,2178.4 L389.8,2177.4 L392.3,2176.5 L394.8,2176.5 L397.3,2175.2 L399.8,2174.7 L402.3,2174.4 L404.8,2173.3 L407.3,2173.3 L409.8,2173.2 L412.3,2172.5 L414.8,2171.7 L417.3,2171.3 L419.8,2170.5 L422.3,2169.5 L424.8,2169.5 L427.3,2168.7 L429.8,2168.6 L432.3,2168.3 L434.8,2167.0 L437.3,2166.7 L439.8,2166.3 L442.3,2165.3 L444.8,2164.5 L447.3,2164.6 L449.8,2164.3 L452.3,2163.6 L454.8,2162.9 L457.3,2162.5 L459.8,2161.7 L462.3,2161.1 L464.8,2160.3 L467.3,2159.5 L469.8,2159.4 L472.3,2158.1 L474.8,2158.0 L477.3,2157.9 L479.8,2157.3 L482.3,2156.6 L484.8,2155.5 L487.3,2155.2 L489.8,2154.7 L492.3,2154.3 L494.8,2153.5 L497.3,2153.3 L499.8,2153.1 L502.3,2151.5 L505.2,2151.5 L508.0,2151.0 L510.9,2149.8 L513.7,2149.3 L516.6,2149.3 L519.4,2147.4 L522.3,2147.4 L524.8,2146.3 L527.3,2146.6 L529.8,2146.3 L532.3,2145.1 L534.8,2144.0 L537.3,2144.1 L539.8,2143.4 L542.3,2143.1 L544.8,2142.2 L547.3,2141.8 L549.8,2141.5 L552.3,2140.5 L554.8,2139.8 L557.3,2140.0 L559.8,2138.3 L562.3,2138.4 L564.8,2137.4 L567.3,2137.4 L569.8,2135.9 L572.3,2136.5 L574.8,2135.0 L577.3,2134.0 L579.8,2133.7 L582.3,2133.3 L584.8,2132.2 L587.3,2132.2 L589.8,2131.6 L592.3,2131.4 L594.8,2130.3 L597.3,2129.6 L599.8,2128.9 L602.3,2129.0 L604.8,2128.7 L607.3,2127.5 L609.8,2126.5 L612.3,2126.7 L614.8,2125.5 L617.3,2124.6 L619.8,2123.9 L622.3,2124.2 L624.8,2123.6 L627.3,2122.7 L629.8,2121.9 L632.3,2121.4 L634.8,2120.3 L637.3,2120.7 L639.8,2119.2 L642.3,2119.0 L644.8,2118.6 L647.3,2118.0 L649.8,2116.8 L652.3,2116.0 L654.8,2115.7 L657.3,2114.4 L659.8,2114.8 L662.3,2113.5 L664.8,2113.5 L667.3,2112.0 L669.8,2111.5 L672.3,2110.7 L674.8,2110.3 L677.3,2109.3 L679.8,2108.4 L682.3,2108.7 L684.8,2107.4 L687.3,2106.7 L689.8,2106.1 L692.3,2105.7 L694.8,2104.9 L697.3,2104.6 L699.8,2103.9 L702.3,2102.8 L704.8,2102.9 L707.3,2102.1 L709.8,2100.3 L712.3,2100.7 L714.8,2100.1 L717.3,2099.2 L719.8,2097.6 L722.3,2097.9 L724.8,2096.9 L727.3,2095.3 L729.8,2094.6 L732.3,2095.2 L734.8,2094.1 L737.3,2092.8 L739.8,2091.9 L742.3,2091.2 L744.8,2090.6 L747.3,2090.6 L749.8,2089.3 L752.3,2088.3 L754.8,2088.6 L757.3,2087.7 L759.8,2086.1 L762.3,2086.4 L764.8,2085.2 L767.3,2084.7 L769.8,2083.8 L772.3,2083.3 L774.8,2082.4 L777.3,2081.7 L779.8,2080.1 L782.3,2080.0 L784.8,2079.0 L787.3,2078.5 L789.8,2077.3 L792.3,2077.1 L794.8,2075.9 L797.3,2074.7 L799.8,2073.9 L802.3,2072.9 L804.8,2072.6 L807.3,2071.2 L809.8,2071.0 L812.3,2069.7 L814.8,2069.4 L817.3,2068.6 L819.8,2067.8 L822.3,2067.5 L824.8,2065.5 L827.3,2065.8 L829.8,2064.4 L832.3,2063.7 L834.8,2063.0 L837.3,2062.5 L839.8,2061.0 L842.3,2060.2 L844.8,2060.1 L847.3,2058.0 L849.8,2057.9 L852.3,2057.1 L854.8,2055.3 L857.3,2055.3 L859.8,2054.5 L862.3,2054.0 L864.8,2052.3 L867.3,2052.3 L869.8,2050.7 L872.3,2049.8 L874.8,2049.5 L877.3,2047.4 L879.8,2047.5 L882.3,2046.4 L884.8,2045.1 L887.3,2044.9 L889.8,2043.3 L892.3,2042.6 L894.8,2041.7 L897.3,2041.1 L899.8,2039.4 L902.3,2038.8 L904.8,2037.8 L907.3,2037.1 L909.8,2036.5 L912.3,2034.8 L914.8,2034.6 L917.3,2033.1 L919.8,2032.3 L922.3,2031.0 L924.8,2030.3 L927.3,2030.0 L929.8,2028.6 L932.3,2027.8 L934.8,2026.2 L937.3,2025.2 L939.8,2024.1 L942.3,2023.6 L944.8,2022.6 L947.3,2021.8 L949.8,2019.8 L952.3,2019.7 L954.8,2018.9 L957.3,2017.4 L959.8,2015.7 L962.3,2015.0 L964.8,2013.6 L967.3,2012.8 L969.8,2012.8 L972.3,2011.3 L974.8,2010.3 L977.3,2009.5 L979.8,2008.6 L982.3,2007.1 L984.8,2006.1 L987.3,2005.0 L989.8,2004.0 L992.3,2002.8 L994.8,2001.8 L997.3,2000.1 L999.8,1999.6 L1002.3,1998.3 L1004.8,1997.6 L1007.3,1995.5 L1009.8,1994.5 L1012.3,1993.2 L1014.8,1993.1 L1017.3,1992.2 L1019.8,1990.7 L1022.3,1989.2 L1024.8,1988.7 L1027.3,1987.5 L1029.8,1986.1 L1032.3,1984.5 L1034.8,1983.4 L1037.3,1982.4 L1039.8,1981.1 L1042.3,1980.1 L1044.8,1979.2 L1047.3,1978.4 L1049.8,1976.0 L1052.3,1975.5 L1054.8,1973.6 L1057.3,1972.5 L1059.8,1972.3 L1062.3,1970.8 L1064.8,1970.0 L1067.3,1968.2 L1069.8,1966.3 L1072.3,1965.6 L1074.8,1964.7 L1077.3,1963.9 L1079.8,1962.8 L1082.3,1960.8 L1084.8,1959.5 L1087.3,1957.8 L1089.8,1957.3 L1092.3,1955.4 L1094.8,1954.1 L1097.3,1952.6 L1099.8,1951.3 L1102.3,1951.0 L1104.8,1948.9 L1107.3,1948.8 L1109.8,1946.3 L1112.3,1946.0 L1114.8,1943.7 L1117.3,1942.2 L1119.8,1941.9 L1122.3,1939.9 L1124.8,1939.2 L1127.3,1937.1 L1129.8,1935.6 L1132.3,1935.3 L1134.8,1933.8 L1137.3,1932.7 L1139.8,1931.1 L1142.3,1928.9 L1144.8,1928.3 L1147.3,1927.0 L1149.8,1925.3 L1152.3,1924.5 L1154.8,1922.2 L1157.3,1921.8 L1159.8,1920.0 L1162.3,1917.6 L1164.8,1916.2 L1167.3,1915.7 L1169.8,1914.5 L1172.3,1912.0 L1174.8,1910.9 L1177.3,1910.0 L1179.8,1907.8 L1182.3,1907.3 L1184.8,1905.3 L1187.3,1903.3 L1189.8,1902.2 L1192.3,1901.0 L1194.8,1899.4 L1197.3,1898.2 L1199.8,1896.0 L1202.3,1895.4 L1204.8,1893.2 L1207.3,1892.1 L1209.8,1890.6 L1212.3,1888.7 L1214.8,1887.2 L1217.3,1886.2 L1219.8,1884.9 L1222.3,1883.1 L1224.8,1881.2 L1227.3,1879.3 L1229.8,1877.4 L1232.3,1877.1 L1234.8,1875.1 L1237.3,1873.7 L1239.8,1871.4 L1242.3,1870.2 L1244.8,1869.1 L1247.3,1867.3 L1249.8,1865.3 L1252.3,1863.3 L1254.8,1861.8 L1257.3,1860.8 L1259.8,1858.5 L1262.3,1857.2 L1264.8,1855.5 L1267.3,1854.2 L1269.8,1852.4 L1272.3,1850.0 L1274.8,1847.9 L1277.3,1846.6 L1279.8,1845.1 L1282.3,1843.6 L1284.8,1842.2 L1287.3,1840.6 L1289.8,1837.7 L1292.3,1837.0 L1294.8,1835.3 L1297.3,1833.6 L1299.8,1831.4 L1302.3,1829.2 L1304.8,1828.3 L1307.3,1826.4 L1309.8,1824.5 L1312.3,1823.0 L1314.8,1820.4 L1317.3,1818.2 L1319.8,1817.1 L1322.3,1815.6 L1324.8,1812.9 L1327.3,1811.8 L1329.8,1810.3 L1332.3,1807.4 L1334.8,1806.1 L1337.3,1804.3 L1339.8,1802.1 L1342.3,1799.9 L1344.8,1798.1 L1347.3,1796.9 L1349.8,1795.0 L1352.3,1792.6 L1354.8,1790.2 L1357.3,1789.3 L1359.8,1787.3 L1362.3,1784.6 L1364.8,1783.1 L1367.3,1781.6 L1369.8,1779.6 L1372.3,1777.1 L1374.8,1775.0 L1377.3,1773.2 L1379.8,1770.6 L1382.3,1768.6 L1384.8,1766.6 L1387.3,1765.3 L1389.8,1762.8 L1392.3,1761.0 L1394.8,1758.7 L1397.3,1756.8 L1399.8,1754.2 L1402.3,1752.0 L1404.8,1751.3 L1407.3,1748.3 L1409.8,1745.8 L1412.3,1744.4 L1414.8,1742.5 L1417.3,1739.5 L1419.8,1738.0 L1422.3,1735.5 L1424.8,1733.6 L1427.3,1730.7 L1429.8,1728.5 L1432.3,1727.7 L1434.8,1725.3 L1437.3,1722.6 L1439.8,1720.5 L1442.3,1717.8 L1444.8,1716.3 L1447.3,1713.6 L1449.8,1712.0 L1452.3,1709.5 L1454.8,1707.3 L1457.3,1705.2 L1459.8,1702.0 L1462.3,1699.4 L1464.8,1697.3 L1467.3,1694.9 L1469.8,1692.4 L1472.3,1690.1 L1474.8,1688.4 L1477.3,1686.5 L1479.8,1683.5 L1482.3,1681.8 L1484.8,1679.4 L1487.3,1675.8 L1489.8,1674.1 L1492.3,1671.4 L1494.8,1668.6 L1497.3,1667.4 L1499.8,1663.9 L1502.3,1661.9 L1504.8,1659.5 L1507.3,1657.5 L1509.8,1654.6 L1512.3,1651.7 L1514.8,1649.2 L1517.3,1646.3 L1519.8,1644.9 L1522.3,1642.4 L1524.8,1638.7 L1527.3,1635.9 L1529.8,1633.6 L1532.3,1631.1 L1534.8,1629.3 L1537.3,1626.7 L1539.8,1624.0 L1542.3,1620.2 L1544.8,1618.6 L1547.3,1615.8 L1549.8,1613.0 L1552.3,1610.8 L1554.8,1606.8 L1557.3,1604.2 L1559.8,1602.4 L1562.3,1599.9 L1564.8,1596.8 L1567.3,1593.5 L1569.8,1591.1 L1572.3,1588.5 L1574.8,1584.8 L1577.3,1582.3 L1579.8,1579.4 L1582.3,1576.4 L1584.8,1574.0 L1587.3,1570.7 L1589.8,1567.9 L1592.3,1564.9 L1594.8,1562.8 L1597.3,1558.9 L1599.8,1557.0 L1602.3,1553.3 L1604.8,1550.1 L1607.3,1548.4 L1609.8,1544.4 L1612.3,1542.4 L1614.8,1539.3 L1617.3,1536.4 L1619.8,1532.3 L1622.3,1529.6 L1624.8,1526.1 L1627.3,1524.2 L1629.8,1521.0 L1632.3,1517.6 L1634.8,1514.2 L1637.3,1510.9 L1639.8,1508.4 L1642.3,1504.8 L1644.8,1501.8 L1647.3,1498.0 L1649.8,1494.9 L1652.3,1491.4 L1654.8,1489.1 L1657.3,1485.6 L1659.8,1481.8 L1662.3,1479.5 L1664.8,1475.4 L1667.3,1472.3 L1669.8,1468.6 L1672.3,1465.4 L1674.8,1462.9 L1677.3,1458.8 L1679.8,1455.2 L1682.3,1452.2 L1684.8,1448.5 L1687.3,1445.9 L1689.8,1441.4 L1692.3,1439.1 L1694.8,1434.3 L1697.3,1432.0 L1699.8,1428.2 L1702.3,1424.0 L1705.3,1420.1 L1708.4,1415.4 L1711.5,1411.0 L1714.5,1406.5" fill="none" stroke="#000" stroke-width="18.6" stroke-linejoin="round" stroke-linecap="round" shape-rendering="crispEdges"/></g></g>
<ellipse cx="1714.4" cy="1407.0" rx="9.6" ry="11.8" fill="#000"/>
<circle cx="364.5" cy="2182.4" r="20.4" fill="#fff" stroke="#000" stroke-width="5.2"/>
<circle cx="483.6" cy="2229.4" r="20.3" fill="#fff" stroke="#000" stroke-width="5.1"/>
<rect x="734.65" y="2067" width="41.3" height="41" fill="#fff" stroke="#000" stroke-width="5.2"/>
<text transform="translate(149.5,1397.9) scale(1.0514254903282332,1)" text-anchor="start" font-size="74" font-weight="normal" >2</text>
<text transform="translate(98.6,1626.1) scale(0.9337922071670959,1)" text-anchor="start" font-size="74" font-weight="normal" >1.5</text>
<text transform="translate(154.1,1853.9) scale(0.7754914004914011,1)" text-anchor="start" font-size="74" font-weight="normal" >1</text>
<text transform="translate(97.4,2082.3) scale(0.9412225524757492,1)" text-anchor="start" font-size="74" font-weight="normal" >0.5</text>
<text transform="translate(150.9,2309.7) scale(0.9784548699643044,1)" text-anchor="start" font-size="74" font-weight="normal" >0</text>
<text transform="translate(227.8,2393.6) scale(1.0326364099949017,1)" text-anchor="start" font-size="74" font-weight="normal" >0</text>
<text transform="translate(428.3,2393.6) scale(0.9901650592764836,1)" text-anchor="start" font-size="74" font-weight="normal" >200</text>
<text transform="translate(667.4,2393.6) scale(0.963376691532032,1)" text-anchor="start" font-size="74" font-weight="normal" >400</text>
<text transform="translate(902.1,2393.6) scale(0.9789916766660949,1)" text-anchor="start" font-size="74" font-weight="normal" >600</text>
<text transform="translate(1140.6,2393.6) scale(0.9746052232007292,1)" text-anchor="start" font-size="74" font-weight="normal" >800</text>
<text transform="translate(1361.4,2393.6) scale(0.9496956935590878,1)" text-anchor="start" font-size="74" font-weight="normal" >1000</text>
<text transform="translate(1598.8,2393.6) scale(0.9489745882488673,1)" text-anchor="start" font-size="74" font-weight="normal" >1200</text>
<text transform="translate(1834.1,2393.6) scale(0.9626755891430385,1)" text-anchor="start" font-size="74" font-weight="normal" >1400</text>
<text transform="translate(915.0,2483.5) scale(0.9904684671978938,1)" text-anchor="start" font-size="72" font-weight="bold" >Time (min)</text>
<text transform="translate(63.3,1995.4) rotate(-90) scale(0.9666710848164256,1)" text-anchor="start" font-size="74" font-weight="bold" >Strain (%)</text>
<text><tspan x="946.5" y="2616.0" font-size="86" font-weight="normal" textLength="24.9" lengthAdjust="spacingAndGlyphs">(</tspan><tspan x="976" y="2615.5" font-size="86" font-weight="bold" textLength="47.4" lengthAdjust="spacingAndGlyphs">b</tspan><tspan x="1024" y="2616.0" font-size="86" font-weight="normal" textLength="24.9" lengthAdjust="spacingAndGlyphs">)</tspan></text>
<rect x="280.5" y="1402.4" width="707.3" height="546.4" fill="#fff" stroke="#000" stroke-width="5"/>
<rect x="304.8" y="1447" width="169.4" height="19.2" rx="7" fill="#808080"/>
<text y="1478.8" font-size="72" font-weight="normal" xml:space="preserve"><tspan x="480.8" textLength="138.9" lengthAdjust="spacingAndGlyphs">38.1 </tspan><tspan x="623.2" textLength="138.5" lengthAdjust="spacingAndGlyphs">MPa</tspan></text>
<rect x="304.8" y="1556.8" width="54" height="19.4" rx="8" fill="#000"/>
<rect x="375.7" y="1556.8" width="55.3" height="19.4" rx="8" fill="#000"/>
<rect x="447.5" y="1556.8" width="26.7" height="19.4" rx="8" fill="#000"/>
<text y="1588.8" font-size="72" font-weight="normal" xml:space="preserve"><tspan x="480.0" textLength="139.7" lengthAdjust="spacingAndGlyphs">57.1 </tspan><tspan x="623.2" textLength="138.5" lengthAdjust="spacingAndGlyphs">MPa</tspan></text>
<rect x="304.8" y="1667.5" width="167.5" height="17.8" rx="7" fill="#000"/>
<text y="1697.8" font-size="72" font-weight="normal" xml:space="preserve"><tspan x="480.8" textLength="145.9" lengthAdjust="spacingAndGlyphs">95.2 </tspan><tspan x="623.2" textLength="138.5" lengthAdjust="spacingAndGlyphs">MPa</tspan></text>
<circle cx="388.5" cy="1786" r="20.8" fill="#fff" stroke="#000" stroke-width="6"/>
<text y="1808.4" font-size="72" font-weight="normal" xml:space="preserve"><tspan x="480.3" textLength="206.1" lengthAdjust="spacingAndGlyphs">Second</tspan><tspan x="692.0" textLength="104.8" lengthAdjust="spacingAndGlyphs">ary </tspan><tspan x="801.7" textLength="159.9" lengthAdjust="spacingAndGlyphs">phase</tspan></text>
<rect x="367.9" y="1875.1" width="41.1" height="41" rx="1" fill="#fff" stroke="#000" stroke-width="5.8"/>
<text y="1918.4" font-size="72" font-weight="normal" xml:space="preserve"><tspan x="481.8" textLength="240.6" lengthAdjust="spacingAndGlyphs">Tertiary </tspan><tspan x="729.8" textLength="161.5" lengthAdjust="spacingAndGlyphs">phase</tspan></text>
</svg></body></html>
